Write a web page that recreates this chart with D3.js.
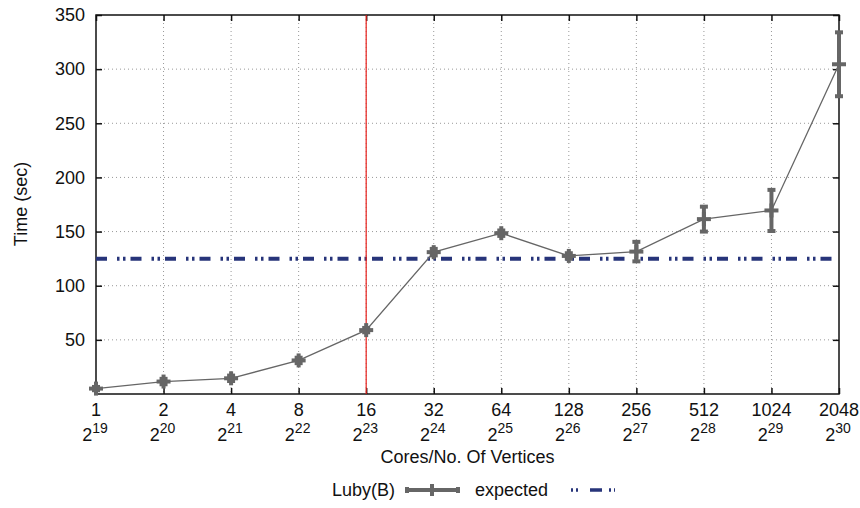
<!DOCTYPE html>
<html>
<head>
<meta charset="utf-8">
<title>Luby(B) timing</title>
<script src="https://cdn.jsdelivr.net/npm/d3@7"></script>
<style>
  body { margin: 0; background: #fff; }
  text { font-family: "Liberation Sans", Arial, sans-serif; fill: #111; }
</style>
</head>
<body>
<script>
// data
var cores = ["1","2","4","8","16","32","64","128","256","512","1024","2048"];
var exps  = [19,20,21,22,23,24,25,26,27,28,29,30];
var times = [5, 11.5, 14.5, 31, 59, 131, 148.5, 127.5, 131.5, 161.5, 169.5, 304.5];
var errs  = [1.5, 2.5, 2.5, 2.5, 2, 3, 2.5, 2.5, 9, 11.5, 19, 29.5];
var expected = 125;
var yTicks = [50,100,150,200,250,300,350];
var markIdx = 4; // red line at 16 cores

var w = 860, h = 508;
var pLeft = 96, pRight = 839, pTop = 15, pBottom = 394;

var svg = d3.select("body").append("svg").attr("width", w).attr("height", h);

var x = d3.scalePoint().domain(cores).range([pLeft, pRight]);
var y = d3.scaleLinear().domain([0, 350]).range([pBottom, pTop]);

// grid
var grid = svg.append("g");
grid.selectAll(".gx").data(cores.slice(1, -1)).enter().append("line")
  .attr("x1", d => x(d)).attr("x2", d => x(d))
  .attr("y1", pTop).attr("y2", pBottom)
  .attr("stroke", "#999").attr("stroke-width", 1).attr("stroke-dasharray", "1,3");
grid.selectAll(".gy").data(yTicks.slice(0, -1)).enter().append("line")
  .attr("x1", pLeft).attr("x2", pRight)
  .attr("y1", d => y(d)).attr("y2", d => y(d))
  .attr("stroke", "#999").attr("stroke-width", 1).attr("stroke-dasharray", "1,3");

// axes with inward ticks on all sides
var fs = 18;
var yAxis = d3.axisLeft(y).tickValues(yTicks).tickSize(-6).tickPadding(11);
var gy = svg.append("g").attr("transform", "translate(" + pLeft + ",0)").call(yAxis);
gy.selectAll("text").style("font-size", fs + "px").attr("fill", "#111");
svg.append("g").attr("transform", "translate(" + pRight + ",0)")
  .call(d3.axisRight(y).tickValues(yTicks).tickSize(-6).tickFormat(""));

var xAxis = d3.axisBottom(x).tickSize(-6).tickFormat("");
svg.append("g").attr("transform", "translate(0," + pBottom + ")").call(xAxis);
svg.append("g").attr("transform", "translate(0," + pTop + ")")
  .call(d3.axisTop(x).tickSize(-6).tickFormat(""));
svg.selectAll(".domain").remove();
svg.selectAll(".tick line").attr("stroke", "#111").attr("stroke-width", 1.5);

svg.append("rect").attr("x", pLeft).attr("y", pTop)
  .attr("width", pRight - pLeft).attr("height", pBottom - pTop)
  .attr("fill", "none").attr("stroke", "#111").attr("stroke-width", 1.5);

// x tick labels (two lines)
var xl = svg.append("g");
xl.selectAll(".c").data(cores).enter().append("text")
  .attr("x", d => x(d)).attr("y", 416)
  .attr("text-anchor", "middle").style("font-size", fs + "px")
  .text(d => d);
var pw = xl.selectAll(".p").data(cores).enter().append("text")
  .attr("x", (d, i) => x(d) - 1).attr("y", 441)
  .attr("text-anchor", "middle").style("font-size", fs + "px");
pw.append("tspan").text("2");
pw.append("tspan").attr("dy", -8).style("font-size", "14px").text((d, i) => exps[i]);

svg.append("text").attr("x", (pLeft + pRight) / 2).attr("y", 463)
  .attr("text-anchor", "middle").style("font-size", fs + "px")
  .text("Cores/No. Of Vertices");
svg.append("text").attr("transform", "translate(27,204) rotate(-90)")
  .attr("text-anchor", "middle").style("font-size", fs + "px")
  .text("Time (sec)");

// expected line
var expDash = "11,10,2.5,3.5,2.5,5";
svg.append("line").attr("x1", pLeft).attr("x2", pRight)
  .attr("y1", y(expected)).attr("y2", y(expected))
  .attr("stroke", "#27347a").attr("stroke-width", 4).attr("stroke-dasharray", expDash);

// red marker line
svg.append("line").attr("x1", x(cores[markIdx])).attr("x2", x(cores[markIdx]))
  .attr("y1", pTop).attr("y2", pBottom).attr("stroke", "#e8201c").attr("stroke-width", 1.2);

// data line
var pts = cores.map((c, i) => ({c: c, v: times[i], e: errs[i]}));
svg.append("path").datum(pts)
  .attr("d", d3.line().x(d => x(d.c)).y(d => y(d.v)))
  .attr("fill", "none").attr("stroke", "#666").attr("stroke-width", 1.3);

var gray = "#666";
var mk = svg.append("g").attr("stroke", gray).attr("stroke-width", 4);
pts.forEach(function(d) {
  var cx = x(d.c), cy = y(d.v);
  mk.append("line").attr("x1", cx).attr("x2", cx).attr("y1", y(d.v + d.e)).attr("y2", y(d.v - d.e));
  mk.append("line").attr("x1", cx - 4).attr("x2", cx + 4).attr("y1", y(d.v + d.e)).attr("y2", y(d.v + d.e));
  mk.append("line").attr("x1", cx - 4).attr("x2", cx + 4).attr("y1", y(d.v - d.e)).attr("y2", y(d.v - d.e));
  mk.append("line").attr("x1", cx - 7).attr("x2", cx + 7).attr("y1", cy).attr("y2", cy);
  mk.append("line").attr("x1", cx).attr("x2", cx).attr("y1", cy - 7).attr("y2", cy + 7);
});

// legend
var ly = 496;
svg.append("text").attr("x", 332).attr("y", ly).style("font-size", fs + "px").text("Luby(B)");
var lg = svg.append("g").attr("stroke", gray).attr("stroke-width", 4);
lg.append("line").attr("x1", 406).attr("x2", 459).attr("y1", ly - 6).attr("y2", ly - 6);
lg.append("line").attr("x1", 407).attr("x2", 407).attr("y1", ly - 9).attr("y2", ly - 3);
lg.append("line").attr("x1", 458).attr("x2", 458).attr("y1", ly - 9).attr("y2", ly - 3);
lg.append("line").attr("x1", 432).attr("x2", 432).attr("y1", ly - 12).attr("y2", ly);
svg.append("text").attr("x", 475).attr("y", ly).style("font-size", fs + "px").text("expected");
svg.append("line").attr("x1", 571).attr("x2", 615).attr("y1", ly - 6).attr("y2", ly - 6)
  .attr("stroke", "#27347a").attr("stroke-width", 3.5)
  .attr("stroke-dasharray", "2,3,2,12,12,7,2,3,2,100");
</script>
</body>
</html>
